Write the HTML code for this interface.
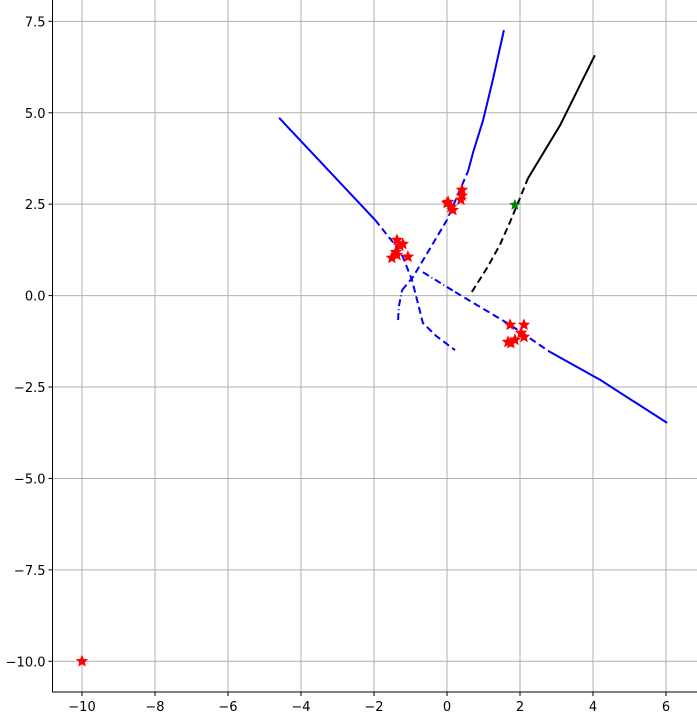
<!DOCTYPE html>
<html><head><meta charset="utf-8"><style>
body{margin:0;background:#fff;}
svg{display:block;font-family:"DejaVu Sans","Liberation Sans",sans-serif;}
</style></head><body>
<svg id="chart" width="697" height="716"></svg>
<script>
const xTicks=[-10,-8,-6,-4,-2,0,2,4,6];
const yTicks=[-10,-7.5,-5,-2.5,0,2.5,5,7.5];
const lineASolid=[[-4.60,4.86],[-1.97,2.07]];
const lineADashed=[[-1.97,2.07],[-1.45,1.42],[-1.21,1.06],[-0.96,0.43],[-0.66,-0.75],[-0.3,-1.1],[0.22,-1.49]];
const lineBDashDot=[[-1.34,-0.67],[-1.32,-0.3],[-1.23,0.15]];
const lineBDashed=[[-1.23,0.15],[-0.93,0.51],[0,2.07],[0.58,3.41]];
const lineBSolid=[[0.58,3.41],[0.71,3.90],[0.99,4.80],[1.26,5.92],[1.56,7.26]];
const lineCDashDot=[[-0.66,0.64],[0.22,0.10]];
const lineCDashed=[[0.22,0.10],[1.73,-0.80],[2.82,-1.54]];
const lineCSolid=[[2.82,-1.54],[4.19,-2.3],[6.03,-3.48]];
const blackDashed=[[0.68,0.10],[1.10,0.76],[1.45,1.39],[1.73,2.02],[2.0,2.67],[2.22,3.21]];
const blackSolid=[[2.22,3.21],[3.10,4.66],[4.05,6.57]];
const greenStar=[[1.86,2.48]];
const redStars=[[-1.37,1.52],[-1.29,1.36],[-1.21,1.41],[-1.51,1.03],[-1.37,1.11],[-1.07,1.06],[-1.40,1.19],
[0.03,2.56],[0.11,2.42],[0.16,2.34],[0.41,2.89],[0.38,2.62],[0.41,2.73],[0,2.53],
[1.73,-0.8],[2.11,-0.8],[2.03,-1.02],[2.11,-1.13],[1.75,-1.3],[1.86,-1.21],[1.67,-1.27],[-10,-10]];

const NS='http://www.w3.org/2000/svg';
const svg=document.getElementById('chart');
const X=v=>447+36.5*v;
const Y=v=>295.6-36.57*v;
const L=52.5,B=692;
function mk(tag,attrs,parent){const e=document.createElementNS(NS,tag);for(const k in attrs)e.setAttribute(k,attrs[k]);(parent||svg).appendChild(e);return e;}
const grid=mk('g',{});


xTicks.forEach(t=>{
  const l=mk('line',{x1:X(t),x2:X(t),y1:0,y2:B,stroke:'#b0b0b0','stroke-width':1},grid);
  
  
  mk('line',{x1:X(t),x2:X(t),y1:B,y2:B+4,stroke:'#000'});
  const tx=mk('text',{x:X(t),y:B+19,'text-anchor':'middle','font-size':13,fill:'#000'});
  tx.textContent=(t<0?'\u2212':'')+Math.abs(t);
  
  
});
yTicks.forEach(t=>{
  const l=mk('line',{x1:L,x2:697,y1:Y(t),y2:Y(t),stroke:'#b0b0b0','stroke-width':1},grid);
  
  
  mk('line',{x1:L-4,x2:L,y1:Y(t),y2:Y(t),stroke:'#000'});
  const tx=mk('text',{x:L-7,y:Y(t)+5,'text-anchor':'end','font-size':13,fill:'#000'});
  tx.textContent=(t<0?'\u2212':'')+Math.abs(t).toFixed(1);
  
  
});
const ax=mk('path',{d:`M${L},0V${B}H697`,stroke:'#000',fill:'none','stroke-width':1});


function line(pts,color,dash,name){
  const p=mk('polyline',{points:pts.map(d=>X(d[0])+','+Y(d[1])).join(' '),fill:'none',stroke:color,'stroke-width':2,'stroke-dasharray':dash,'stroke-linejoin':'round'});
  
  
}
line(lineASolid,'#0000ff','none','line-a-solid');
line(lineADashed,'#0000ff','7,4','line-a-dashed');
line(lineBDashDot,'#0000ff','7,3,1,3','line-b-dashdot');
line(lineBDashed,'#0000ff','7,4','line-b-dashed');
line(lineBSolid,'#0000ff','none','line-b-solid');
line(lineCDashDot,'#0000ff','7,3,1,3','line-c-dashdot');
line(lineCDashed,'#0000ff','7,4','line-c-dashed');
line(lineCSolid,'#0000ff','none','line-c-solid');
line(blackDashed,'#000','7,4','black-dashed');
line(blackSolid,'#000','none','black-solid');
function star(cx,cy,r,color,name){
  let pts=[];for(let i=0;i<10;i++){const a=-Math.PI/2+i*Math.PI/5;const rr=i%2?r*0.45:r;pts.push((cx+rr*Math.cos(a)).toFixed(1)+','+(cy+rr*Math.sin(a)).toFixed(1));}
  const s=mk('polygon',{points:pts.join(' '),fill:color,stroke:color,'stroke-width':0.8});
  
  
}
redStars.forEach(d=>star(X(d[0]),Y(d[1]),5.5,'#ff0000','red-star-point'));
greenStar.forEach(d=>star(X(d[0]),Y(d[1]),5,'#008000','green-star-point'));
</script>
</body></html>
